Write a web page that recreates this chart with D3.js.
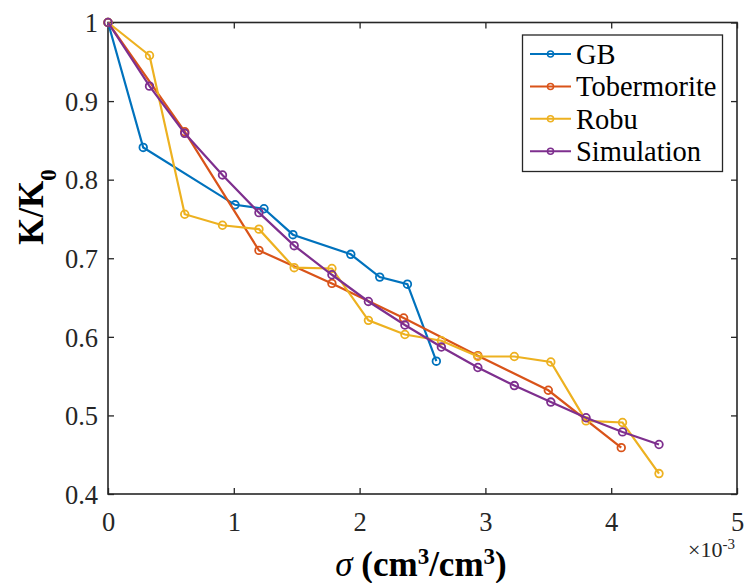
<!DOCTYPE html>
<html><head><meta charset="utf-8">
<script src="https://cdn.jsdelivr.net/npm/d3@7"></script>
<style>body{margin:0;background:#fff} text{font-family:"Liberation Serif","Times New Roman",serif}</style>
</head><body>
<svg id="c" width="744" height="583"></svg>
<script>
const seriesNames = ["GB", "Tobermorite", "Robu", "Simulation"];
const colors = ["#0072BD", "#D95319", "#EDB120", "#7E2F8E"];
const gbX = [0, 0.28, 1.01, 1.24, 1.47, 1.93, 2.16, 2.38, 2.61];
const gbY = [1.0, 0.841, 0.768, 0.763, 0.730, 0.705, 0.676, 0.667, 0.569];
const tobX = [0, 0.61, 1.20, 1.78, 2.35, 2.94, 3.50, 4.08];
const tobY = [1.0, 0.861, 0.710, 0.668, 0.624, 0.576, 0.532, 0.459];
const robX = [0, 0.33, 0.61, 0.91, 1.20, 1.48, 1.78, 2.07, 2.36, 2.65, 2.94, 3.23, 3.52, 3.80, 4.09, 4.38];
const robY = [1.0, 0.958, 0.756, 0.742, 0.737, 0.688, 0.687, 0.621, 0.603, 0.595, 0.575, 0.575, 0.568, 0.493, 0.491, 0.426];
const simX = [0, 0.33, 0.61, 0.91, 1.20, 1.48, 1.78, 2.07, 2.36, 2.65, 2.94, 3.23, 3.52, 3.80, 4.09, 4.38];
const simY = [1.0, 0.919, 0.859, 0.806, 0.758, 0.716, 0.679, 0.645, 0.615, 0.587, 0.561, 0.538, 0.517, 0.497, 0.479, 0.463];
const xTicks = [0, 1, 2, 3, 4, 5];
const yTicks = [0.4, 0.5, 0.6, 0.7, 0.8, 0.9, 1];

const series = [
  {name: seriesNames[0], x: gbX, y: gbY, color: colors[0]},
  {name: seriesNames[1], x: tobX, y: tobY, color: colors[1]},
  {name: seriesNames[2], x: robX, y: robY, color: colors[2]},
  {name: seriesNames[3], x: simX, y: simY, color: colors[3]}
];

const svg = d3.select("#c");
const L = 108, R = 737, T = 22.5, B = 494;
const xs = d3.scaleLinear().domain([0, 5]).range([L, R]);
const ys = d3.scaleLinear().domain([0.4, 1]).range([B, T]);
const font = "'Liberation Serif', 'Times New Roman', serif";
const axCol = "#262626";

const g = svg.append("g");
const tl = 6;
const axB = d3.axisBottom(xs).tickValues(xTicks).tickSize(-tl).tickFormat(d => d);
const axT = d3.axisTop(xs).tickValues(xTicks).tickSize(-tl).tickFormat("");
const axL = d3.axisLeft(ys).tickValues(yTicks).tickSize(-tl).tickFormat(d => d === 1 ? "1" : d3.format(".1f")(d));
const axR = d3.axisRight(ys).tickValues(yTicks).tickSize(-tl).tickFormat("");

function styleAxis(sel) {
  sel.attr("font-family", null);
  sel.select(".domain").remove();
  sel.selectAll("line").attr("stroke", axCol).attr("stroke-width", 1.3);
  sel.selectAll("text").attr("fill", axCol).style("font-family", font).style("font-size", "26.5px");
}
g.append("g").attr("transform", `translate(0,${B})`).call(axB).call(styleAxis)
  .selectAll("text").attr("dy", null).attr("y", 37);
g.append("g").attr("transform", `translate(0,${T})`).call(axT).call(styleAxis);
g.append("g").attr("transform", `translate(${L},0)`).call(axL).call(styleAxis)
  .selectAll("text").attr("x", -10).attr("dy", "0.35em");
g.append("g").attr("transform", `translate(${R},0)`).call(axR).call(styleAxis);

g.append("rect").attr("x", L).attr("y", T).attr("width", R - L).attr("height", B - T)
  .attr("fill", "none").attr("stroke", axCol).attr("stroke-width", 1.6);

const line = d3.line().x(d => xs(d[0])).y(d => ys(d[1]));
series.forEach(s => {
  const pts = s.x.map((v, i) => [v, s.y[i]]);
  const sg = g.append("g");
  sg.append("path").attr("d", line(pts)).attr("fill", "none").attr("stroke", s.color).attr("stroke-width", 2.2);
  sg.selectAll("circle").data(pts).enter().append("circle")
    .attr("cx", d => xs(d[0])).attr("cy", d => ys(d[1])).attr("r", 3.8)
    .attr("fill", "none").attr("stroke", s.color).attr("stroke-width", 1.8);
});

const lg = g.append("g");
lg.append("rect").attr("x", 522.5).attr("y", 35).attr("width", 200).attr("height", 136.5)
  .attr("fill", "#fff").attr("stroke", axCol).attr("stroke-width", 1.3);
series.forEach((s, i) => {
  const cy = 54 + i * 32.4;
  lg.append("line").attr("x1", 530).attr("x2", 571).attr("y1", cy).attr("y2", cy)
    .attr("stroke", s.color).attr("stroke-width", 2);
  lg.append("circle").attr("cx", 550.5).attr("cy", cy).attr("r", 3).attr("fill", "none")
    .attr("stroke", s.color).attr("stroke-width", 1.5);
  lg.append("text").attr("x", 576).attr("y", cy).attr("dy", "0.35em")
    .style("font-family", font).style("font-size", "28.5px").attr("fill", "#000").text(s.name);
});

const xl = svg.append("text").attr("x", 421).attr("y", 576).attr("text-anchor", "middle")
  .style("font-family", font).style("font-size", "35px").style("font-weight", "bold").attr("fill", "#000");
xl.append("tspan").style("font-style", "italic").style("font-weight", "normal").text("σ");
xl.append("tspan").text(" (cm");
xl.append("tspan").attr("baseline-shift", "super").style("font-size", "23px").text("3");
xl.append("tspan").text("/cm");
xl.append("tspan").attr("baseline-shift", "super").style("font-size", "23px").text("3");
xl.append("tspan").text(")");

const yl = svg.append("text").attr("transform", "translate(43,207) rotate(-90)").attr("text-anchor", "middle")
  .style("font-family", font).style("font-size", "35px").style("font-weight", "bold").attr("fill", "#000");
yl.append("tspan").text("K/K");
yl.append("tspan").attr("baseline-shift", "sub").style("font-size", "23px").text("0");

const ex = svg.append("text").attr("x", 688).attr("y", 557)
  .style("font-family", font).style("font-size", "22px").attr("fill", axCol);
ex.append("tspan").text("×10");
ex.append("tspan").attr("dy", -8).style("font-size", "15px").text("-3");
</script>
</body></html>
